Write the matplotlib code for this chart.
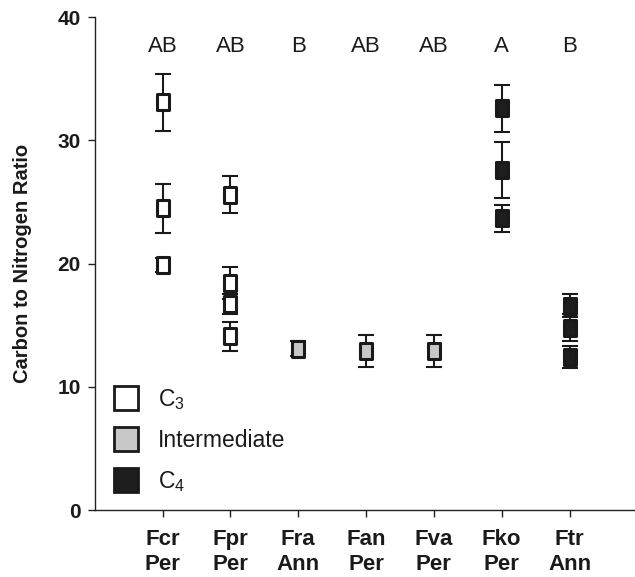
import matplotlib
matplotlib.use("Agg")
import matplotlib.pyplot as plt
from matplotlib.path import Path
from matplotlib.lines import Line2D

plt.rcParams['font.family'] = ['Liberation Sans', 'DejaVu Sans']
plt.rcParams['mathtext.fontset'] = 'custom'
plt.rcParams['mathtext.rm'] = 'Liberation Sans'
plt.rcParams['mathtext.it'] = 'Liberation Sans'

# ---- data ----
categories = ["Fcr\nPer", "Fpr\nPer", "Fra\nAnn", "Fan\nPer", "Fva\nPer", "Fko\nPer", "Ftr\nAnn"]
letters = ["AB", "AB", "B", "AB", "AB", "A", "B"]

c3_cat = [0, 0, 0, 1, 1, 1, 1]
c3_mean = [33.1, 24.5, 19.9, 25.6, 18.4, 16.7, 14.1]
c3_err = [2.3, 2.0, 0.6, 1.5, 1.3, 0.8, 1.2]

int_cat = [2, 3, 4]
int_mean = [13.1, 12.9, 12.9]
int_err = [0.6, 1.3, 1.3]

c4_cat = [5, 5, 5, 6, 6, 6]
c4_mean = [32.6, 27.6, 23.7, 16.6, 14.8, 12.4]
c4_err = [1.9, 2.3, 1.1, 0.9, 1.1, 0.9]

legend_labels = ["C$_3$", "Intermediate", "C$_4$"]
colors = ["white", "#c8c8c8", "#1e1e1e"]
edge = "#1a1a1a"

# ---- figure ----
fig = plt.figure(figsize=(6.35, 5.77), dpi=100)
ax = fig.add_axes([0.1491, 0.1161, 0.8493, 0.8539])

rect = Path([(-0.4, -0.5), (0.4, -0.5), (0.4, 0.5), (-0.4, 0.5), (-0.4, -0.5)],
            [Path.MOVETO, Path.LINETO, Path.LINETO, Path.LINETO, Path.CLOSEPOLY])

groups = [(c3_cat, c3_mean, c3_err), (int_cat, int_mean, int_err), (c4_cat, c4_mean, c4_err)]
for (cx, cy, ce), col in zip(groups, colors):
    xs = [c + 1 for c in cx]
    ax.errorbar(xs, cy, yerr=ce, fmt='none', ecolor=edge, elinewidth=1.5,
                capsize=6, capthick=1.5, zorder=2)
    ax.plot(xs, cy, linestyle='none', marker=rect, markersize=11.5,
            markerfacecolor=col, markeredgecolor=edge, markeredgewidth=2.2, zorder=3)

for i, lt in enumerate(letters):
    ax.text(i + 1, 37.6, lt, ha='center', va='center', fontsize=16, color='#1a1a1a')

ax.set_xlim(0, 7.95)
ax.set_ylim(0, 40)
ax.set_xticks(range(1, 8))
ax.set_xticklabels(categories, fontsize=16, fontweight='bold', linespacing=1.2,
                   color='#1a1a1a')
ax.set_yticks([0, 10, 20, 30, 40])
ax.set_yticklabels(["0", "10", "20", "30", "40"], fontsize=15, fontweight='bold',
                   color='#1a1a1a')
ax.set_ylabel("Carbon to Nitrogen Ratio", fontsize=14.5, fontweight='bold',
              labelpad=18, color='#1a1a1a')

for s in ['top', 'right']:
    ax.spines[s].set_visible(False)
for s in ['left', 'bottom']:
    ax.spines[s].set_linewidth(1.0)
    ax.spines[s].set_color('#222222')
ax.tick_params(direction='out', length=5, width=1.0, color='#222222', pad=5)
ax.tick_params(axis='x', pad=9)

handles = [Line2D([0], [0], linestyle='none', marker='s', markersize=17,
                  markerfacecolor=c, markeredgecolor=edge, markeredgewidth=2)
           for c in colors]
ax.legend(handles, legend_labels, loc='lower left', bbox_to_anchor=(0.0, 0.0),
          frameon=False, fontsize=16.5, handlelength=1.3, handletextpad=0.75,
          labelspacing=0.75, borderaxespad=0.3, labelcolor='#1a1a1a')

fig.savefig("out.png", dpi=100)
